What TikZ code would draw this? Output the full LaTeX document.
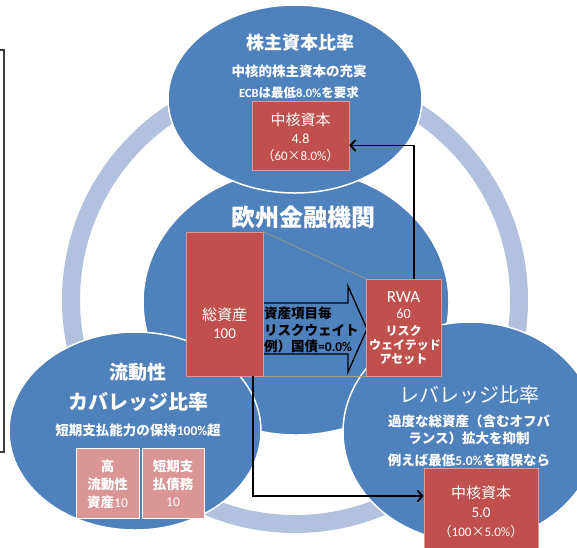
\documentclass[tikz,border=0pt]{standalone}
\usepackage{fontspec}
\setmainfont{Noto Sans CJK JP}
\newfontfamily\lat{Carlito}
\usetikzlibrary{calc,arrows.meta}
\definecolor{ellblue}{RGB}{79,129,189}
\definecolor{ringblue}{RGB}{178,194,222}
\definecolor{boxred}{RGB}{192,80,77}
\definecolor{boxpink}{RGB}{218,150,148}
\definecolor{boxedge}{RGB}{224,150,146}
\definecolor{zoomline}{RGB}{165,160,125}
\definecolor{framegray}{RGB}{60,60,60}
\tikzset{
  ell/.style={fill=ellblue, draw=white, line width=1.5pt},
  redbox/.style={fill=boxred, draw=boxedge, line width=0.6pt, inner sep=0pt},
  pinkbox/.style={fill=boxpink, draw=white, line width=0.6pt, inner sep=0pt},
  txt/.style={text=white, inner sep=0pt},
  btxt/.style={text=black, inner sep=0pt, anchor=west},
  conn/.style={draw=black, line width=1.8pt, -{Straight Barb[length=5pt,width=11pt]}},
  zoomln/.style={draw=zoomline, line width=0.6pt},
  blockarrow/.style={draw=black, line width=1.3pt, line join=miter}
}
\begin{document}
\begin{tikzpicture}[x=1pt,y=-1pt]
\useasboundingbox (0,0) rectangle (577,547);
% left frame fragment
\draw[framegray, line width=1.4pt] (0,50) -- (4,50) -- (4,452) -- (0,452);
% ring
\draw[ringblue, line width=18pt] (295,300) circle[radius=224pt];
% ellipses
\path[ell] (296,302) ellipse[x radius=153pt, y radius=133pt];
\path[ell] (295,99) ellipse[x radius=127pt, y radius=94pt];
\path[ell] (135,431) ellipse[x radius=126pt, y radius=99pt];
\path[ell] (470,432) ellipse[x radius=127pt, y radius=110pt];

% top ellipse texts
\node[txt, font=\bfseries\fontsize{18}{20}\selectfont] (t1) at (300,43) {株主資本比率};
\node[txt, font=\bfseries\fontsize{13.5}{16}\selectfont] (t2) at (299,71) {中核的株主資本の充実};
\node[txt, font=\bfseries\fontsize{12.5}{15}\selectfont] (t3) at (299,93) {{\lat ECB}は最低{\lat 8.0\%}を要求};
% top box
\node[redbox, minimum width=97pt, minimum height=69pt] (topbox) at (300.5,135.5) {};
\node[txt, font=\fontsize{15}{17}\selectfont] (tb1) at (300.5,120) {中核資本};
\node[txt, font=\lat\fontsize{14}{16}\selectfont] (tb2) at (300.5,139) {4.8};
\node[txt, font=\fontsize{13}{15}\selectfont] (tb3) at (300.5,156) {（{\lat 60}×{\lat 8.0\%}）};

% center
\node[txt, font=\bfseries\fontsize{24}{26}\selectfont] (c1) at (303.5,217) {欧州金融機関};

% block arrow
\draw[blockarrow] (263,303) -- (348,303) -- (348,286) -- (367,329) -- (348,372) -- (348,354) -- (263,354);
\node[btxt, font=\bfseries\fontsize{13.5}{15}\selectfont] (a1) at (264,313) {資産項目毎};
\node[btxt, font=\bfseries\fontsize{13.5}{15}\selectfont] (a2) at (264,330) {リスクウェイト};
\node[btxt, font=\bfseries\fontsize{13.5}{15}\selectfont] (a3) at (264,346) {例）国債{\lat =0.0\%}};

% total assets box
\node[redbox, minimum width=77pt, minimum height=144pt] (assets) at (224.5,304) {};
\node[txt, font=\fontsize{15}{17}\selectfont] (as1) at (224.5,315) {総資産};
\node[txt, font=\lat\fontsize{15}{17}\selectfont] (as2) at (224.5,334) {100};

% RWA box
\node[redbox, minimum width=75pt, minimum height=97pt] (rwa) at (403.5,327.5) {};
\node[txt, font=\lat\fontsize{17}{19}\selectfont] (r1) at (403.5,297) {RWA};
\node[txt, font=\lat\fontsize{14}{16}\selectfont] (r2) at (403.5,314) {60};
\node[txt, font=\bfseries\fontsize{12}{14}\selectfont] (r3) at (403.5,331) {リスク};
\node[txt, font=\bfseries\fontsize{12}{14}\selectfont] (r4) at (405,345) {ウェイテッド};
\node[txt, font=\bfseries\fontsize{12}{14}\selectfont] (r5) at (403.5,359) {アセット};

% zoom lines
\draw[zoomln] (assets.north east) -- (rwa.north west);
\draw[zoomln] (assets.south east) -- (rwa.south west);

% bottom-left ellipse texts
\node[txt, font=\bfseries\fontsize{19}{21}\selectfont] (l1) at (138,372) {流動性};
\node[txt, font=\bfseries\fontsize{20}{22}\selectfont] (l2) at (138,402) {カバレッジ比率};
\node[txt, font=\bfseries\fontsize{13.5}{15}\selectfont] (l3) at (138,430) {短期支払能力の保持{\lat 100\%}超};
\node[pinkbox, minimum width=63pt, minimum height=70pt] (hqla) at (107.5,483) {};
\node[pinkbox, minimum width=62pt, minimum height=70pt] (stl) at (173,483) {};
\node[txt, font=\bfseries\fontsize{13.5}{15}\selectfont] (h1) at (107.5,466) {高};
\node[txt, font=\bfseries\fontsize{13.5}{15}\selectfont] (h2) at (107.5,484) {流動性};
\node[txt, font=\bfseries\fontsize{13.5}{15}\selectfont] (h3) at (107.5,502) {資産{\mdseries\lat 10}};
\node[txt, font=\bfseries\fontsize{13.5}{15}\selectfont] (s1) at (173,466) {短期支};
\node[txt, font=\bfseries\fontsize{13.5}{15}\selectfont] (s2) at (173,484) {払債務};
\node[txt, font=\lat\fontsize{13.5}{15}\selectfont] (s3) at (173,502) {10};

% bottom-right ellipse texts
\node[txt, font=\fontsize{20}{22}\selectfont] (g1) at (469,395) {レバレッジ比率};
\node[txt, font=\bfseries\fontsize{13.5}{15}\selectfont] (g2) at (469,421) {過度な総資産（含むオフバ};
\node[txt, font=\bfseries\fontsize{13.5}{15}\selectfont] (g3) at (469,438) {ランス）拡大を抑制};
\node[txt, font=\bfseries\fontsize{13.5}{15}\selectfont] (g4) at (469,460) {例えば最低{\lat 5.0\%}を確保なら};
\node[redbox, minimum width=114pt, minimum height=82pt] (lev) at (481,509) {};
\node[txt, font=\fontsize{15}{17}\selectfont] (lv1) at (481,493) {中核資本};
\node[txt, font=\lat\fontsize{15}{17}\selectfont] (lv2) at (481,513) {5.0};
\node[txt, font=\fontsize{13}{15}\selectfont] (lv3) at (481,532) {（{\lat 100}×{\lat 5.0\%}）};

% connectors
\draw[conn] ($(rwa.north west)+(48,0)$) |- ($(topbox.east)+(0,10)$);
\draw[conn] ($(assets.south west)+(67,0)$) |- ($(lev.west)+(0,-13)$);
\end{tikzpicture}
\end{document}
